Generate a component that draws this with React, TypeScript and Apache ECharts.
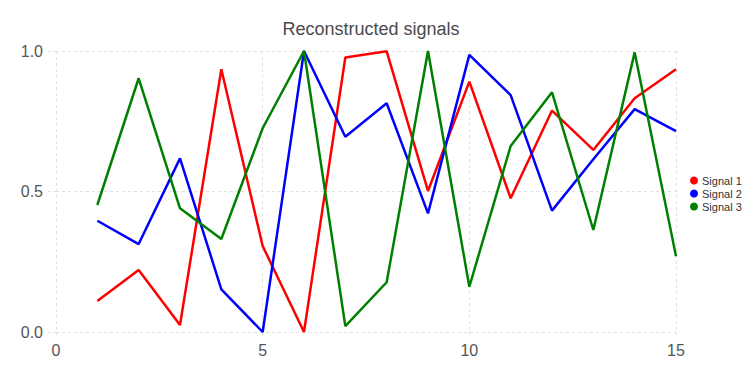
import React, { useEffect, useRef } from "react";
import * as echarts from "echarts";

const xValues = [1, 2, 3, 4, 5, 6, 7, 8, 9, 10, 11, 12, 13, 14, 15];
const signal1 = [0.110, 0.221, 0.025, 0.935, 0.306, 0.0, 0.977, 0.999, 0.502, 0.891, 0.476, 0.788, 0.648, 0.832, 0.935];
const signal2 = [0.396, 0.313, 0.618, 0.152, 0.0, 1.0, 0.695, 0.814, 0.422, 0.986, 0.843, 0.432, 0.615, 0.793, 0.715];
const signal3 = [0.452, 0.903, 0.44, 0.331, 0.725, 1.0, 0.021, 0.177, 1.0, 0.161, 0.662, 0.853, 0.363, 0.995, 0.270];
const seriesNames = ["Signal 1", "Signal 2", "Signal 3"];
const seriesColors = ["#ff0000", "#0000ff", "#008000"];
const xTicks = { min: 0, max: 15, interval: 5 };
const yTicks = { min: 0, max: 1, interval: 0.5 };

export default function App() {
  const ref = useRef<HTMLDivElement>(null);
  useEffect(() => {
    document.body.style.margin = "0";
    if (!ref.current) return;
    const chart = echarts.init(ref.current, null, { renderer: "svg" });
    const font = "Liberation Sans, Arial, Helvetica, sans-serif";
    const grid = { color: "#e0e0e0", type: [3, 3] as number[], width: 1 };
    const allData = [signal1, signal2, signal3];
    chart.setOption({
      animation: false,
      backgroundColor: "#ffffff",
      textStyle: { fontFamily: font },
      title: {
        text: "Reconstructed signals",
        left: 366,
        textAlign: "center",
        top: 15,
        textStyle: { fontSize: 18, fontWeight: "normal", color: "#4a4a4a", fontFamily: font },
      },
      legend: {
        orient: "vertical",
        left: 685,
        top: 170,
        icon: "circle",
        itemWidth: 8,
        itemHeight: 8,
        itemGap: 2,
        textStyle: { fontSize: 11, color: "#333333", fontFamily: font, padding: [0, 0, 0, -1] },
        data: seriesNames,
      },
      grid: { left: 56, right: 80, top: 51, bottom: 46, containLabel: false },
      xAxis: {
        type: "value",
        min: xTicks.min,
        max: xTicks.max,
        interval: xTicks.interval,
        axisLine: { show: false },
        axisTick: { show: true, length: 6, lineStyle: grid },
        splitLine: { show: true, lineStyle: grid },
        axisLabel: { fontSize: 16, color: "#555555", margin: 10, fontFamily: font },
      },
      yAxis: {
        type: "value",
        min: yTicks.min,
        max: yTicks.max,
        interval: yTicks.interval,
        axisLine: { show: false },
        axisTick: { show: true, length: 8, lineStyle: grid },
        splitLine: { show: true, lineStyle: grid },
        axisLabel: {
          fontSize: 16,
          color: "#555555",
          margin: 13,
          fontFamily: font,
          formatter: (v: number) => v.toFixed(1),
        },
      },
      series: seriesNames.map((name, i) => ({
        name,
        type: "line",
        data: xValues.map((x, j) => [x, allData[i][j]]),
        showSymbol: false,
        symbol: "circle",
        color: seriesColors[i],
        lineStyle: { width: 2.5, color: seriesColors[i] },
      })),
    });
    return () => chart.dispose();
  }, []);
  return <div ref={ref} style={{ width: 756, height: 378 }} />;
}
